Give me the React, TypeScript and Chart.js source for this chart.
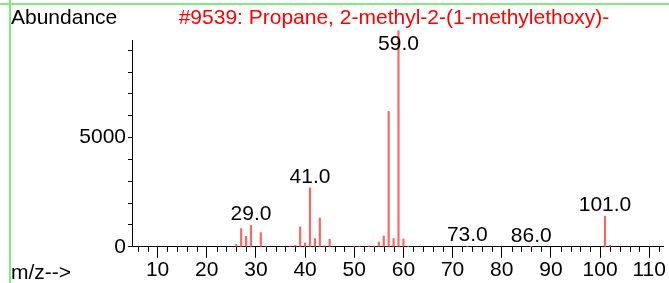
import React, { useEffect, useRef } from "react";
import { Chart, registerables } from "chart.js";

Chart.register(...registerables);

// ---- data ----
const MZ = [26, 27, 28, 29, 31, 32, 37, 38, 39, 40, 41, 42, 43, 44, 45, 50, 51, 53, 54, 55, 56, 57, 58, 59, 60, 61, 73, 86, 101, 102];
const ABUNDANCE = [110, 835, 480, 990, 650, 30, 40, 70, 910, 175, 2700, 375, 1320, 40, 345, 30, 20, 40, 40, 220, 495, 6200, 375, 9900, 360, 30, 25, 10, 1400, 70];
const LABELED_MZ = [29, 41, 59, 73, 86, 101];
const X_MAJOR_TICKS = [10, 20, 30, 40, 50, 60, 70, 80, 90, 100, 110];
const X_MINOR_TICKS = [6, 8, 12, 14, 16, 18, 22, 24, 26, 28, 32, 34, 36, 38, 42, 44, 46, 48, 52, 54, 56, 58, 62, 64, 66, 68, 72, 74, 76, 78, 82, 84, 86, 88, 92, 94, 96, 98, 102, 104, 106, 108, 112];
const Y_TICKS = [0, 1000, 2000, 3000, 4000, 5000, 6000, 7000, 8000, 9000];
const Y_LABELED = [0, 5000];
const TITLE = "#9539: Propane, 2-methyl-2-(1-methylethoxy)-";
const Y_TITLE = "Abundance";
const X_TITLE = "m/z-->";

const FONT = "'Liberation Sans', Arial, sans-serif";
const FONT_SIZE = 21;

export default function App() {
  const ref = useRef<HTMLCanvasElement | null>(null);

  useEffect(() => {
    if (!ref.current) return;

    const decor = {
      id: "decor",
      beforeDraw(chart: any) {
        const ctx = chart.ctx;
        ctx.save();
        ctx.fillStyle = "#ffffff";
        ctx.fillRect(0, 0, chart.width, chart.height);
        ctx.strokeStyle = "#7eec7e";
        ctx.lineWidth = 2;
        ctx.beginPath();
        ctx.moveTo(0, 4);
        ctx.lineTo(chart.width, 4);
        ctx.moveTo(10, 0);
        ctx.lineTo(10, chart.height);
        ctx.stroke();
        ctx.restore();
      },
      afterDraw(chart: any) {
        const { ctx, chartArea } = chart;
        const xs = chart.scales.x;
        const ys = chart.scales.y;
        ctx.save();
        ctx.strokeStyle = "#000";
        ctx.lineWidth = 1;
        X_MINOR_TICKS.forEach((v) => {
          const px = Math.round(xs.getPixelForValue(v)) + 0.5;
          ctx.beginPath();
          ctx.moveTo(px, chartArea.bottom);
          ctx.lineTo(px, chartArea.bottom + 5);
          ctx.stroke();
        });
        ctx.font = `${FONT_SIZE}px ${FONT}`;
        ctx.textBaseline = "alphabetic";
        ctx.fillStyle = "#000";
        ctx.textAlign = "left";
        ctx.fillText(Y_TITLE, 11, 24);
        ctx.fillText(X_TITLE, 11, 279);
        ctx.fillStyle = "#ff0000";
        ctx.textAlign = "center";
        ctx.fillText(TITLE, (chartArea.left + chartArea.right) / 2 - 3.5, 24);
        ctx.fillStyle = "#000";
        LABELED_MZ.forEach((m) => {
          const i = MZ.indexOf(m);
          const px = xs.getPixelForValue(m);
          const top = ys.getPixelForValue(ABUNDANCE[i]);
          const base = Math.max(top - 5, 50);
          ctx.fillText(`${m}.0`, px, base);
        });
        ctx.restore();
      },
    };

    const chart = new Chart(ref.current, {
      type: "bar",
      data: {
        datasets: [
          {
            data: MZ.map((m, i) => ({ x: m, y: ABUNDANCE[i] })),
            backgroundColor: "#ff6464",
            borderWidth: 0,
            barThickness: 1.5,
            clip: false,
          } as any,
        ],
      },
      options: {
        responsive: false,
        animation: false,
        layout: { padding: { left: 77.3, top: 40.5, right: 6, bottom: 0 } },
        plugins: {
          legend: { display: false },
          tooltip: { enabled: false },
          title: { display: false },
        },
        scales: {
          x: {
            type: "linear",
            min: 4.8,
            max: 112.8,
            offset: false,
            afterBuildTicks: (s: any) => {
              s.ticks = X_MAJOR_TICKS.map((v) => ({ value: v }));
            },
            ticks: {
              autoSkip: false,
              maxRotation: 0,
              padding: 0,
              color: "#000",
              font: { family: FONT, size: FONT_SIZE },
              callback: (v: any) => String(v),
            },
            grid: { drawOnChartArea: false, tickLength: 11, color: "#000", offset: false },
            border: { color: "#000", width: 1 },
          },
          y: {
            type: "linear",
            min: 0,
            max: 9450,
            afterBuildTicks: (s: any) => {
              s.ticks = Y_TICKS.map((v) => ({ value: v }));
            },
            ticks: {
              autoSkip: false,
              padding: 2,
              color: "#000",
              font: { family: FONT, size: FONT_SIZE },
              callback: (v: any) => (Y_LABELED.includes(v) ? String(v) : ""),
            },
            grid: { drawOnChartArea: false, tickLength: 4, color: "#000" },
            border: { color: "#000", width: 1 },
          },
        },
      } as any,
      plugins: [decor],
    });

    return () => chart.destroy();
  }, []);

  return (
    <div style={{ position: "absolute", left: 0, top: 0, width: 669, height: 283 }}>
      <canvas ref={ref} width={669} height={283} style={{ display: "block" }} />
    </div>
  );
}
